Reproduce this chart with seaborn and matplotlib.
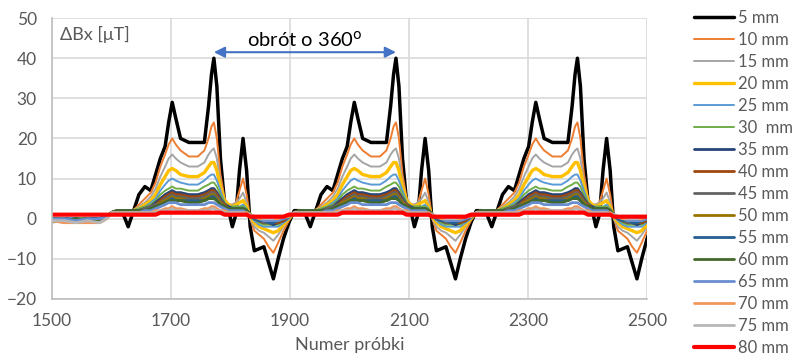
import matplotlib
matplotlib.use("Agg")
import matplotlib.pyplot as plt
import pandas as pd
import seaborn as sns

# Sample positions: quiet lead-in, then one rotation (repeats three times in the chart)
lead_x = [1500, 1520, 1540, 1560, 1580, 1592, 1600]
rotation_x = [1610, 1620, 1628, 1636, 1646, 1656, 1666, 1674, 1682, 1690,
              1696, 1702, 1708, 1716, 1730, 1745, 1756, 1763, 1768, 1772,
              1777, 1783, 1790, 1797, 1803, 1809, 1815, 1821, 1827, 1833,
              1840, 1848, 1856, 1864, 1872, 1880, 1889, 1898, 1907]
rotation_start = [0, 306, 611]

labels = ["5 mm", "10 mm", "15 mm", "20 mm", "25 mm", "30  mm", "35 mm", "40 mm",
          "45 mm", "50 mm", "55 mm", "60 mm", "65 mm", "70 mm", "75 mm", "80 mm"]
colors = ["#000000", "#ED7D31", "#A5A5A5", "#FFC000", "#5B9BD5", "#70AD47",
          "#264478", "#9E480E", "#636363", "#997300", "#255E91", "#43682B",
          "#698ED0", "#F1975A", "#B7B7B7", "#FF0000"]
widths = [2.5, 1.4, 1.4, 2.4, 1.4, 1.4, 2.0, 2.0, 2.0, 2.0, 2.0, 2.0, 2.0, 2.0, 2.0, 3.0]

# first 7 values = lead-in, remaining 39 = one rotation
mm5 = [0, 0, -0.5, 0, 0, 0.5, 1.5,
       2, 1, -2, 1.5, 6, 8, 7, 11, 15, 18, 24, 29, 25, 20, 19, 19, 19, 28, 36, 40,
       33, 15, 4, 2, -2, 1, 12, 20, 12, -2, -8, -7.5, -7, -11, -15, -10, -5, -1, 2]
mm10 = [-0.5, -1, -0.5, -1, -1, 0, 1.5,
        2, 2, 1.5, 2, 3.5, 5, 6.5, 9, 13, 16, 18.5, 20, 18.5, 17, 15.5, 15.5, 17, 20, 23, 24,
        20, 11, 5, 3.5, 3.5, 4, 7, 10, 6, 0, -3, -4, -5, -7, -8.5, -6, -3, -0.5, 1.5]
mm15 = [-1, -0.5, -1, -0.5, -1, 0, 1.5,
        2, 2, 1.5, 2, 3, 4, 5.5, 7.5, 10.5, 13, 15, 16, 15, 14, 13, 13, 14, 16, 17, 17.5,
        15, 9, 4.5, 3.5, 3.5, 4, 5, 6.5, 4, 0, -2, -3, -3.5, -4.5, -5.5, -4, -2, 0, 1.5]
mm20 = [-0.5, -0.5, -0.5, -0.5, -0.5, 0.5, 1.5,
        2, 2, 1.5, 2, 2.5, 3.5, 4.5, 6, 8.5, 10.5, 12, 12.5, 12, 11, 10.5, 10.5, 11.5, 13, 14, 14,
        12, 8, 4.5, 3.5, 3, 3.5, 4, 4.5, 3, 0.5, -1, -2, -2.5, -3, -3.5, -3, -1.5, 0, 1.5]
mm25 = [-0.5, 0, -0.5, 0, -0.5, 0.5, 1.5,
        2, 2, 1.5, 2, 2.5, 3, 4, 5, 7, 8.5, 9.5, 10, 9.5, 9, 8.5, 8.5, 9.5, 10.5, 11, 11,
        9.5, 7, 4, 3, 3, 3, 3, 3.5, 2.5, 0.5, -0.5, -1.5, -2, -2, -2, -2, -1, 0, 1.5]
mm30 = [0, -0.5, 0, -0.5, 0, 0.5, 1.5,
        2, 2, 2, 2, 2.5, 3, 3.5, 4.5, 6, 7, 7.5, 8, 7.5, 7.5, 7, 7, 8, 8.5, 9, 9,
        8, 6, 4, 3, 3, 3, 3, 3, 2.5, 1, 0, -1, -1.5, -1.5, -1.5, -1.5, -0.5, 0.5, 1.5]
mm35 = [-0.5, -0.5, 0, -0.5, -0.5, 0.5, 1.5,
        2, 2, 2, 2, 2, 2.5, 3, 4, 5, 6, 6.5, 7, 6.5, 6.5, 6, 6, 6.5, 7, 7.5, 7.5,
        6.5, 5, 3.5, 3, 2.5, 2.5, 2.5, 2.5, 2, 1, 0, -0.5, -1, -1, -1.5, -1, -0.5, 0.5, 1.5]
mm40 = [0, -0.5, -0.5, 0, -0.5, 0.5, 1.5,
        2, 2, 2, 2, 2, 2.5, 3, 3.5, 4.5, 5.5, 6, 6.5, 6, 6, 5.5, 5.5, 6, 6.5, 7, 7,
        6, 4.5, 3.5, 2.5, 2.5, 2.5, 2.5, 2.5, 2, 1, 0, -0.5, -1, -1, -1, -1, -0.5, 0.5, 1.5]
mm45 = [-0.5, 0, -0.5, -0.5, 0, 0.5, 1.5,
        2, 2, 2, 2, 2, 2.5, 3, 3.5, 4, 5, 5.5, 6, 5.5, 5.5, 5, 5, 5.5, 6, 6.5, 6.5,
        5.5, 4.5, 3, 2.5, 2.5, 2.5, 2.5, 2.5, 2, 1, 0, -0.5, -1, -1, -1, -0.5, 0, 0.5, 1.5]
mm50 = [0, 0, -0.5, 0, -0.5, 0.5, 1.5,
        2, 2, 2, 2, 2, 2, 2.5, 3, 4, 4.5, 5, 5.5, 5, 5, 4.5, 4.5, 5, 5.5, 6, 6,
        5, 4, 3, 2.5, 2.5, 2.5, 2.5, 2.5, 2, 1, 0, -0.5, -0.5, -1, -1, -0.5, 0, 0.5, 1.5]
mm55 = [-0.5, 0, 0, -0.5, 0, 0.5, 1.5,
        2, 2, 2, 2, 2, 2, 2.5, 3, 3.5, 4, 4.5, 5, 4.5, 4.5, 4.5, 4.5, 4.5, 5, 5.5, 5.5,
        4.5, 3.5, 3, 2.5, 2.5, 2.5, 2.5, 2.5, 2, 1, 0, -0.5, -0.5, -1, -1, -0.5, 0, 0.5, 1.5]
mm60 = [0, -0.5, 0, 0, -0.5, 0.5, 1.5,
        2, 2, 2, 2, 2, 2, 2.5, 3, 3.5, 4, 4.5, 4.5, 4.5, 4.5, 4, 4, 4.5, 5, 5, 5,
        4.5, 3.5, 3, 2.5, 2.5, 2.5, 2.5, 2.5, 2, 1, 0.5, 0, -0.5, -0.5, -0.5, -0.5, 0, 0.5, 1.5]
mm65 = [0, 0, -0.5, 0, 0, 0.5, 1.5,
        1.5, 1.5, 1.5, 1.5, 1.5, 2, 2, 2.5, 3, 3.5, 4, 4, 4, 3.5, 3.5, 3.5, 3.5, 4, 4, 4,
        3.5, 3, 2.5, 2, 2, 2, 2, 2, 1.5, 1, 0.5, 0, -0.5, -0.5, -0.5, -0.5, 0, 0.5, 1.5]
mm70 = [-0.5, -1, -1, -1, -1, 0, 1.5,
        1.5, 1.5, 1.5, 1.5, 1.5, 1.5, 1.5, 2, 2, 2.5, 2.5, 3, 2.5, 2.5, 2, 2, 2.5, 2.5, 3, 3,
        2.5, 2, 2, 1.5, 1.5, 1.5, 1.5, 1.5, 1.5, 1, 0.5, 0, 0, 0, 0, 0, 0.5, 0.5, 1.5]
mm75 = [-0.5, -0.5, -1, -0.5, -1, 0, 1.5,
        1.5, 1.5, 1.5, 1.5, 1.5, 1.5, 1.5, 1.5, 2, 2, 2, 2.5, 2, 2, 2, 2, 2, 2, 2.5, 2.5,
        2, 2, 1.5, 1.5, 1.5, 1.5, 1.5, 1.5, 1, 1, 0.5, 0.5, 0, 0, 0, 0.5, 0.5, 1, 1.5]
mm80 = [1, 1, 1, 1, 1, 1, 1,
        1, 1, 1, 1, 1, 1, 1, 1, 1.5, 1.5, 1.5, 1.5, 1.5, 1.5, 1.5, 1.5, 1.5, 1.5, 1.5, 1.5,
        1.5, 1.5, 1, 1, 1, 1, 1, 1, 1, 0.5, 0.5, 0.5, 0.5, 0.5, 0.5, 0.5, 0.5, 1, 1]

series = [mm5, mm10, mm15, mm20, mm25, mm30, mm35, mm40,
          mm45, mm50, mm55, mm60, mm65, mm70, mm75, mm80]

# long table: lead-in followed by the three rotations
frames = []
for label, vals in zip(labels, series):
    lead, rot = vals[:len(lead_x)], vals[len(lead_x):]
    xs = lead_x + [x + s for s in rotation_start for x in rotation_x]
    ys = lead + rot * len(rotation_start)
    frames.append(pd.DataFrame({"sample": xs, "dB": ys, "dist": label}))
df = pd.concat(frames, ignore_index=True)

sns.set_theme(style="whitegrid")
plt.rcParams["font.family"] = ["Lato", "DejaVu Sans"]

fig = plt.figure(figsize=(7.92, 3.55), dpi=100)
ax = fig.add_axes([0.0657, 0.158, 0.7513, 0.791])

for label, col, lw in zip(labels, colors, widths):
    sns.lineplot(data=df[df["dist"] == label], x="sample", y="dB", color=col,
                 linewidth=lw, label=label, ax=ax, sort=False)

ax.set_xlim(1500, 2500)
ax.set_ylim(-20, 50)
ax.set_xticks(range(1500, 2501, 200))
ax.set_yticks(range(-20, 51, 10))
ax.grid(True, color="#D9D9D9", linewidth=1.2)
ax.set_facecolor("white")
for side in ["top", "right"]:
    ax.spines[side].set_visible(False)
for side in ["left", "bottom"]:
    ax.spines[side].set_color("#BFBFBF")
    ax.spines[side].set_linewidth(1.2)
ax.tick_params(axis="y", colors="#595959", labelsize=12.5, length=0, pad=11)
ax.tick_params(axis="x", colors="#595959", labelsize=12.5, length=0, pad=10)
ax.set_xlabel("Numer próbki", color="#595959", fontsize=13, labelpad=6)
ax.set_ylabel("")

ax.text(0.013, 0.94, "ΔBx [μT]", transform=ax.transAxes, fontsize=13,
        color="#595959", va="center", ha="left")
ax.annotate("", xy=(1772, 41.5), xytext=(2078, 41.5),
            arrowprops=dict(arrowstyle="<|-|>", color="#4472C4", lw=1.5,
                            mutation_scale=16, shrinkA=0, shrinkB=0))
ax.text(1925, 44.5, "obrót o 360$^{\\mathrm{o}}$", fontsize=14.5, color="#000000",
        ha="center", va="center")

ax.legend_.remove()
handles, lbls = ax.get_legend_handles_labels()
fig.legend(handles, lbls, loc="upper left", bbox_to_anchor=(0.868, 0.99),
           frameon=False, fontsize=12, handlelength=2.4, handletextpad=0.25,
           labelspacing=0.36, borderaxespad=0, labelcolor="#595959")

fig.savefig("out.png", dpi=100)
